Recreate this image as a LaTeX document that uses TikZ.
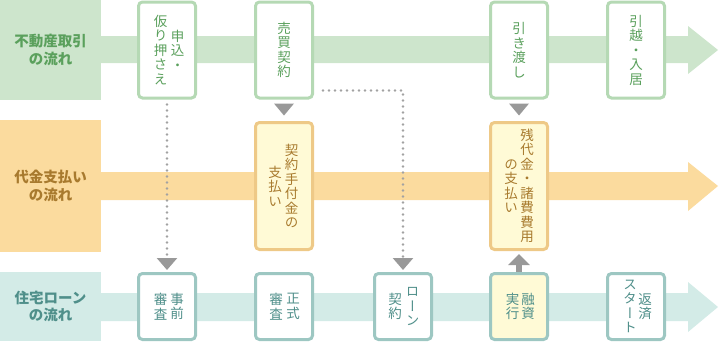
\documentclass[tikz,border=0pt]{standalone}
\usepackage{fontspec}
\setmainfont{Noto Sans CJK JP}
\newfontfamily\tatefont[RawFeature=+vert]{Noto Sans CJK JP}
\usepackage{tikz}
\usetikzlibrary{arrows.meta}

\definecolor{tradeband}{HTML}{CDE5CC}
\definecolor{tradetext}{HTML}{5AA05C}
\definecolor{tradeline}{HTML}{B5D9B4}
\definecolor{payband}{HTML}{FBDB9E}
\definecolor{paytext}{HTML}{A87A2E}
\definecolor{payline}{HTML}{EEC987}
\definecolor{payfill}{HTML}{FFFAD6}
\definecolor{loanband}{HTML}{D3EBE7}
\definecolor{loantext}{HTML}{4F8F8A}
\definecolor{loanline}{HTML}{9DC7C2}
\definecolor{arrowgray}{HTML}{999999}
\definecolor{dotgray}{HTML}{A2A2A2}

\tikzset{
  stepbox/.style={draw, line width=3pt, rounded corners=4pt, minimum width=57pt, inner sep=0pt},
  tradebox/.style={stepbox, draw=tradeline, fill=white, minimum height=96pt},
  paybox/.style={stepbox, draw=payline, fill=payfill, minimum height=127pt},
  loanbox/.style={stepbox, draw=loanline, fill=white, minimum height=66pt},
  tatecol/.style={align=center, inner sep=0pt, font=\tatefont\fontsize{13.5}{14.5}\selectfont},
  header/.style={align=center, inner sep=0pt, minimum width=101pt, font=\bfseries\fontsize{14.5}{17.5}\selectfont},
  dotline/.style={draw=dotgray, line width=2.6pt, line cap=round, dash pattern=on 0pt off 6pt,
    -{Triangle[width=20pt, length=12pt, color=arrowgray]}}
}

\begin{document}
\begin{tikzpicture}[x=1pt, y=-1pt]
  \useasboundingbox (0,0) rectangle (720,341);

  % ===== Bands =====
  \fill[tradeband] (101,36) -- (688,36) -- (688,26) -- (718,50) -- (688,74) -- (688,63) -- (101,63) -- cycle;
  \fill[payband] (101,172) -- (688,172) -- (688,162) -- (718,186) -- (688,211) -- (688,200) -- (101,200) -- cycle;
  \fill[loanband] (101,293) -- (688,293) -- (688,282) -- (718,307) -- (688,332) -- (688,321) -- (101,321) -- cycle;

  % ===== Row headers =====
  \node[header, fill=tradeband, text=tradetext, minimum height=100pt] (trade) at (50.5,50) {不動産取引\\の流れ};
  \node[header, fill=payband, text=paytext, minimum height=132pt] (pay) at (50.5,186) {代金支払い\\の流れ};
  \node[header, fill=loanband, text=loantext, minimum height=69pt] (loan) at (50.5,306.5) {住宅ローン\\の流れ};

  % ===== Real estate steps =====
  \node[tradebox] (t1) at (167,50) {};
  \node[tatecol, text=tradetext] (t1a) at ([xshift=-6.5pt]t1.center) {仮\\り\\押\\さ\\え};
  \node[tatecol, text=tradetext] (t1b) at ([xshift=10.5pt]t1.center) {申\\込\\・};

  \node[tradebox] (t2) at (284,50) {};
  \node[tatecol, text=tradetext] (t2a) at (t2.center) {売\\買\\契\\約};

  \node[tradebox] (t3) at (519,50) {};
  \node[tatecol, text=tradetext] (t3a) at (t3.center) {引\\き\\渡\\し};

  \node[tradebox] (t4) at (636,50) {};
  \node[tatecol, text=tradetext] (t4a) at (t4.center) {引\\越\\・\\入\\居};

  % ===== Payment steps =====
  \node[paybox] (p1) at (284,186) {};
  \node[tatecol, text=paytext] (p1a) at ([xshift=-9pt]p1.center) {支\\払\\い};
  \node[tatecol, text=paytext] (p1b) at ([xshift=7.7pt]p1.center) {契\\約\\手\\付\\金\\の};

  \node[paybox] (p2) at (519,186) {};
  \node[tatecol, text=paytext] (p2a) at ([xshift=-8pt]p2.center) {の\\支\\払\\い};
  \node[tatecol, text=paytext] (p2b) at ([xshift=8pt]p2.center) {残\\代\\金\\・\\諸\\費\\費\\用};

  % ===== Loan steps =====
  \node[loanbox] (l1) at (167,306.5) {};
  \node[tatecol, text=loantext] (l1a) at ([xshift=-6.5pt]l1.center) {審\\査};
  \node[tatecol, text=loantext] (l1b) at ([xshift=10pt]l1.center) {事\\前};

  \node[loanbox] (l2) at (284,306.5) {};
  \node[tatecol, text=loantext] (l2a) at ([xshift=-8pt]l2.center) {審\\査};
  \node[tatecol, text=loantext] (l2b) at ([xshift=9pt]l2.center) {正\\式};

  \node[loanbox] (l3) at (403,306.5) {};
  \node[tatecol, text=loantext] (l3a) at ([xshift=-8pt]l3.center) {契\\約};
  \node[tatecol, text=loantext] (l3b) at ([xshift=9.5pt]l3.center) {ロ\\ー\\ン};

  \node[loanbox, fill=payfill] (l4) at (519,306.5) {};
  \node[tatecol, text=loantext] (l4a) at ([xshift=-6.5pt]l4.center) {実\\行};
  \node[tatecol, text=loantext] (l4b) at ([xshift=9pt]l4.center) {融\\資};

  \node[loanbox] (l5) at (636,306.5) {};
  \node[tatecol, text=loantext] (l5a) at ([xshift=-6pt]l5.center) {ス\\タ\\ー\\ト};
  \node[tatecol, text=loantext] (l5b) at ([xshift=9pt]l5.center) {返\\済};

  % ===== Connectors =====
  \fill[arrowgray] ([yshift=-4pt]t2.south) ++(-10pt,0) -- ++(20pt,0) -- ++(-10pt,-12pt) -- cycle;
  \fill[arrowgray] ([yshift=-4pt]t3.south) ++(-10pt,0) -- ++(20pt,0) -- ++(-10pt,-12pt) -- cycle;

  \draw[dotline] ([yshift=-5pt]t1.south) -- ([yshift=2pt]l1.north);
  \draw[dotline] ([xshift=9pt, yshift=9pt]t2.south east) -| ([yshift=2pt]l3.north);

  \draw[arrowgray, line width=6pt, -{Triangle[width=21pt, length=11pt]}] (l4.north) -- ([yshift=-3pt]p2.south);
\end{tikzpicture}
\end{document}
